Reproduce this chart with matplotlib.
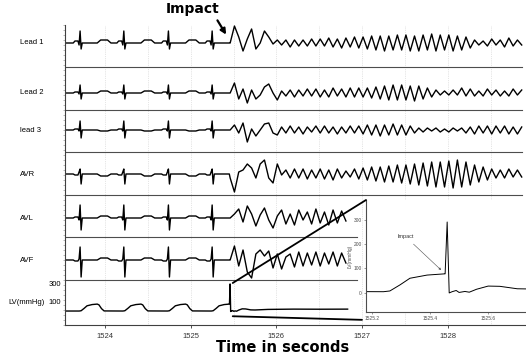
import numpy as np
import matplotlib.pyplot as plt
import matplotlib.transforms as mtransforms
from matplotlib.patches import ConnectionPatch
from matplotlib.ticker import MultipleLocator

plt.rcParams['font.family'] = ['Liberation Sans', 'DejaVu Sans']

# R-wave times of the normal beats before the impact (s)
beat_times = [1523.71, 1524.22, 1524.74, 1525.25]
t_impact = 1525.46

# one normal beat per lead, offsets from the R wave (s), amplitude in arb. units
beat_offsets = [-0.08, -0.06, -0.025, -0.012, 0.0, 0.012, 0.025, 0.2, 0.24, 0.32, 0.36]
beat_lead1 = [0, 2, 2, -2, 12, -6, 0, 0, 3, 3, 0]
beat_lead2 = [0, 1, 1, -1, 8, -6, 0, 0, 2, 2, 0]
beat_lead3 = [0, 1, 1, -1, 9, -8, 0, 0, -1, -1, 0]
beat_avr = [0, -1, -1, 2, 5, -10, 0, 0, -2, -2, 0]
beat_avl = [0, 1, 1, -2, 13, -12, 0, 0, 2, 2, 0]
beat_avf = [0, -1, -1, 1, 13, -17, 0, 0, 2, 2, 0]

# fibrillation after the impact, one reading every 0.05 s from the impact
vf_dt = 0.05
vf_lead1 = [0, 17, 6, -8, 4, 14, -6, 0, 12, 6, -1, 3, -2, 3, -4, 3, -3, 3, -3, 4, -3,
            4, -3, 5, -4, 4, -5, 5, -4, 6, -5,
            6, -6, 7, -7, 7, -8, 7, -7, 8, -7,
            8, -8, 7, -8, 8, -7, 9, -8, 8, -7,
            8, -8, 7, -7, 6, -5, 3, -2, 2, -3,
            4, -2, 3, -4, 5, -3, 3, -2]
vf_lead2 = [0, 10, -6, 4, -10, 3, -6, -2, 6, 9, 0, -7, 2, -3, 3, -4, 3, -3, 4, -3, 4,
            -4, 3, -4, 5, -3, 4, -4, 5, -4, 5,
            -4, 5, -5, 6, -6, 7, -7, 8, -7, 8,
            -7, 7, -8, 7, -6, 5, -4, 3, -2, 2,
            -2, 3, -2, 5, -3, 4, -3, 2, -3, 4,
            -2, 3, -3, 2, -3, 4, -2, 3]
vf_lead3 = [0, 5, -3, 7, -12, 1, -6, 0, 6, 7, -3, -5, 3, -3, 4, -3, 3, -4, 3, -2, 4,
            -3, 4, -3, 3, -4, 3, -3, 4, -3, 4,
            -4, 5, -5, 5, -6, 5, -5, 6, -5, 5,
            -5, 4, -3, 2, -2, 2, -1, 2, -2, 1,
            -2, 2, -1, 2, -3, 3, -4, 4, -3, 4,
            -4, 4, -3, 4, -4, 3, -4, 3]
vf_avr = [-4, -18, 2, 4, 10, 6, -4, 10, 14, -4, -9, 10, -1, 4, -4, 5, -4, 5, -5, 4, -4,
          5, -5, 4, -6, 5, -4, 3, -3, 5, -5,
          6, -6, 7, -7, 7, -8, 8, -8, 9, -9,
          9, -10, 10, -11, 11, -12, 12, -13, 12, -13,
          13, -14, 14, -13, 12, -11, 9, -8, 7, -6,
          5, -4, 4, -4, 5, -3, 4, -3]
vf_avl = [0, 4, 9, -4, 12, 4, -8, 3, 10, -2, -10, 2, 8, -6, 4, -7, 8, -2, 6, -6,
          9, -5, 6, -7, 8, -5, 7, -3]
vf_avf = [0, 14, -6, 10, -12, -18, 6, 10, 4, 9, -8, 6, -9, 3, 6, -7, 8, -6, 7, -5,
          8, -6, 7, -4, 8, -6, 7, -3]

leads = ["Lead 1", "Lead 2", "lead 3", "AVR", "AVL", "AVF"]
beats = [beat_lead1, beat_lead2, beat_lead3, beat_avr, beat_avl, beat_avf]
fibs = [vf_lead1, vf_lead2, vf_lead3, vf_avr, vf_avl, vf_avf]

# left ventricular pressure (mmHg)
lv_bump_offsets = [-0.01, 0.012, 0.047, 0.081, 0.14, 0.2, 0.22, 0.25, 0.28]
lv_bump_values = [5, 8, 33, 60, 73, 78, 70, 30, 6]
lv_hit_t = [1525.452, 1525.459, 1525.466, 1525.476, 1525.49, 1525.50, 1525.52, 1525.535,
            1525.56, 1525.60, 1525.64, 1525.70, 1525.75, 1525.9, 1526.2, 1526.5, 1526.83]
lv_hit_v = [78, 290, 0, 5, 10, 2, 6, 3, 15, 28, 27, 17, 16, 22, 25, 24, 25]

# layout of the stacked strips (y in axes data units)
baselines = [282, 232, 195, 151, 107, 65]
separators = [258, 215, 173, 130, 88, 45]
sep_ends = [1528.86, 1528.86, 1528.86, 1528.86, 1526.94, 1526.94]
lv0, lv_scale = 13.5, 0.095
t_left, t_right = 1523.534, 1528.91

fig = plt.figure(figsize=(5.26, 3.57), dpi=100)
ax = fig.add_axes([65 / 526, 32 / 357, 461 / 526, 300 / 357])
ax.set_xlim(t_left, t_right)
ax.set_ylim(0, 300)

for name, shape, fib, base in zip(leads, beats, fibs, baselines):
    t, v = [t_left], [0]
    for tb in beat_times:
        for off, val in zip(beat_offsets, shape):
            if tb + off < t_impact:
                t.append(tb + off)
                v.append(val)
    t += list(t_impact + vf_dt * np.arange(len(fib)))
    v += fib
    ax.plot(t, base + np.array(v), color='k', lw=1.0, solid_joinstyle='round')

# LV trace
lt, lv = [t_left], [5]
for tb in beat_times:
    for off, val in zip(lv_bump_offsets, lv_bump_values):
        if tb + off < lv_hit_t[0]:
            lt.append(tb + off)
            lv.append(val)
lt += lv_hit_t
lv += lv_hit_v
ax.plot(lt, lv0 + lv_scale * np.array(lv), color='k', lw=1.0, solid_joinstyle='round')

for y, xe in zip(separators, sep_ends):
    ax.plot([t_left, xe], [y, y], color='0.3', lw=0.8)

ax.spines['top'].set_visible(False)
ax.spines['right'].set_visible(False)
for s in ['left', 'bottom']:
    ax.spines[s].set_color('0.25')
    ax.spines[s].set_linewidth(0.8)

ax.set_xticks([1524, 1525, 1526, 1527, 1528])
ax.set_xticks(np.arange(1524, 1529, 0.5), minor=True)
ax.tick_params(axis='x', labelsize=5.5, length=2.5, width=0.6, pad=3, colors='0.2')
ax.tick_params(axis='x', which='minor', length=0)
ax.grid(axis='x', which='both', ls=':', color='0.8', lw=0.5)
ax.set_yticks([lv0 + 300 * lv_scale, lv0 + 100 * lv_scale], ['300', '100'])
ax.yaxis.set_minor_locator(MultipleLocator(5))
ax.tick_params(axis='y', length=0, labelsize=5.5, pad=3)
ax.tick_params(axis='y', which='minor', length=1.5, width=0.4, color='0.5')

trans = mtransforms.blended_transform_factory(fig.transFigure, ax.transData)
for name, base in zip(leads, baselines):
    ax.text(20 / 526, base, name, transform=trans, fontsize=5.5, va='center')
ax.text(8 / 526, lv0 + 100 * lv_scale, 'LV(mmHg)', transform=trans, fontsize=5.5, va='center')

fig.text(193 / 526, 1 - 9 / 357, 'Impact', fontsize=10, fontweight='bold',
         family='DejaVu Sans', ha='center', va='center')
ax.annotate('', xy=(t_impact - 0.03, baselines[0] + 6), xytext=(216 / 526, 1 - 18 / 357),
            textcoords='figure fraction',
            arrowprops=dict(arrowstyle='-|>', lw=1.6, color='k', mutation_scale=8))
fig.text(283 / 526, 1 - 347 / 357, 'Time in seconds', fontsize=10.5, fontweight='bold',
         family='DejaVu Sans', ha='center', va='center')

# zoomed LV inset
axin = fig.add_axes([366 / 526, 45 / 357, 160 / 526, 112 / 357])
axin.plot(lt, lv, color='k', lw=0.7)
axin.set_xlim(1525.18, 1525.73)
axin.set_ylim(-78, 380)
axin.set_xticks([1525.2, 1525.4, 1525.6], ['1525.2', '1525.4', '1525.6'])
axin.set_yticks([0, 100, 200, 300])
axin.tick_params(labelsize=3.5, length=1.5, width=0.4, pad=1.5, colors='0.3')
axin.spines['top'].set_visible(False)
axin.spines['right'].set_visible(False)
for s in ['left', 'bottom']:
    axin.spines[s].set_color('0.3')
    axin.spines[s].set_linewidth(0.8)
axin.set_ylabel('LV(mmHg)', fontsize=3.5, labelpad=1, color='0.3')
axin.annotate('Impact', xy=(1525.445, 86), xytext=(1525.317, 229), fontsize=4,
              ha='center', va='center', color='0.2',
              arrowprops=dict(arrowstyle='-|>', lw=0.4, color='0.3', mutation_scale=3))

zoom_t = 1525.49
for yv, xyB in [(300, (0, 1)), (-50, (-0.025, -0.07))]:
    con = ConnectionPatch(xyA=(zoom_t, lv0 + yv * lv_scale), coordsA=ax.transData,
                          xyB=xyB, coordsB=axin.transAxes, color='k', lw=1.3)
    fig.add_artist(con)

fig.savefig('out.png', dpi=100)
